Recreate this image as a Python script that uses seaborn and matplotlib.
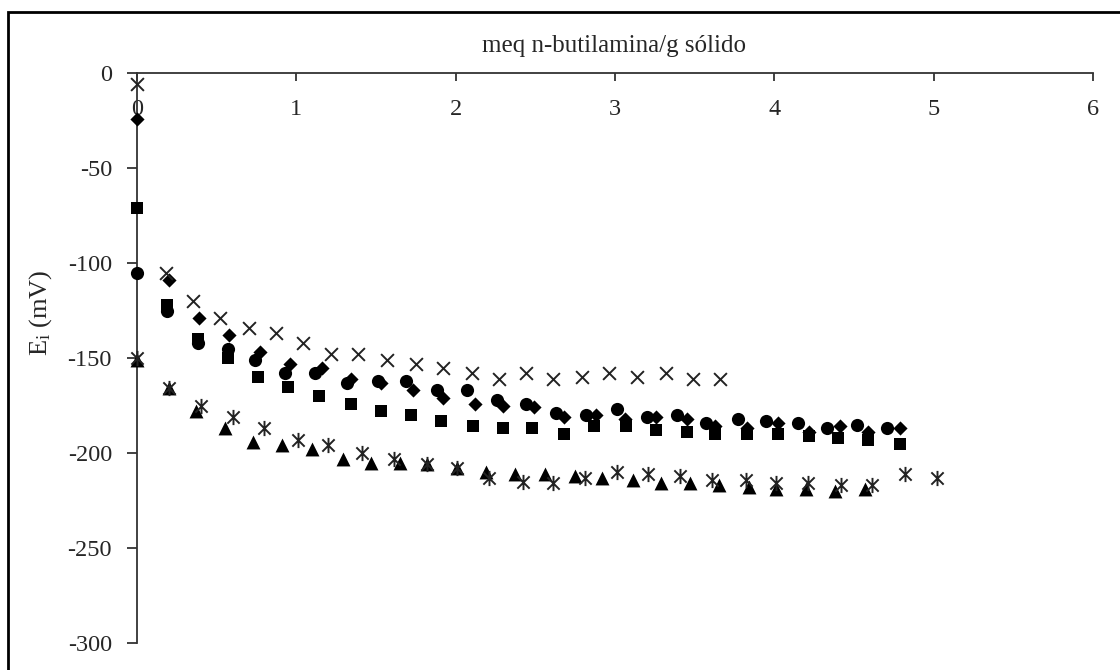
import numpy as np
import pandas as pd
import matplotlib
matplotlib.use("Agg")
import matplotlib.pyplot as plt
import seaborn as sns
from matplotlib.path import Path
from matplotlib.patches import Rectangle

# ---------------- data ----------------
x_cross = [0.00, 0.18, 0.35, 0.52, 0.70, 0.87, 1.04, 1.22, 1.39, 1.57, 1.75,
           1.92, 2.10, 2.27, 2.44, 2.61, 2.79, 2.96, 3.14, 3.32, 3.49, 3.66]
y_cross = [-6, -105, -120, -129, -134, -137, -142, -148, -148, -151, -153,
           -155, -158, -161, -158, -161, -160, -158, -160, -158, -161, -161]

x_diamond = [0.00, 0.20, 0.39, 0.58, 0.77, 0.96, 1.16, 1.34, 1.53, 1.73, 1.92,
             2.12, 2.30, 2.49, 2.68, 2.88, 3.06, 3.26, 3.45, 3.63, 3.83, 4.02,
             4.22, 4.41, 4.59, 4.79]
y_diamond = [-24, -109, -129, -138, -147, -153, -155, -161, -163, -167, -171,
             -174, -175, -176, -181, -180, -182, -181, -182, -186, -187, -184,
             -189, -186, -189, -187]

x_circle = [0.00, 0.19, 0.38, 0.57, 0.74, 0.93, 1.12, 1.32, 1.51, 1.69, 1.88,
            2.07, 2.26, 2.44, 2.63, 2.82, 3.01, 3.20, 3.39, 3.57, 3.77, 3.95,
            4.15, 4.33, 4.52, 4.71]
y_circle = [-105, -125, -142, -145, -151, -158, -158, -163, -162, -162, -167,
            -167, -172, -174, -179, -180, -177, -181, -180, -184, -182, -183,
            -184, -187, -185, -187]

x_square = [0.00, 0.19, 0.38, 0.57, 0.76, 0.95, 1.14, 1.34, 1.53, 1.72, 1.91,
            2.11, 2.30, 2.48, 2.68, 2.87, 3.07, 3.26, 3.45, 3.63, 3.83, 4.02,
            4.22, 4.40, 4.59, 4.79]
y_square = [-71, -122, -140, -150, -160, -165, -170, -174, -178, -180, -183,
            -186, -187, -187, -190, -186, -186, -188, -189, -190, -190, -190,
            -191, -192, -193, -195]

x_triangle = [0.00, 0.20, 0.37, 0.55, 0.73, 0.91, 1.10, 1.29, 1.47, 1.65, 1.82,
              2.01, 2.19, 2.37, 2.56, 2.75, 2.92, 3.11, 3.29, 3.47, 3.65, 3.84,
              4.01, 4.20, 4.38, 4.57]
y_triangle = [-151, -166, -178, -187, -194, -196, -198, -203, -205, -205, -206,
              -208, -210, -211, -211, -212, -213, -214, -216, -216, -217, -218,
              -219, -219, -220, -219]

x_star = [0.00, 0.20, 0.40, 0.60, 0.80, 1.01, 1.20, 1.41, 1.61, 1.82, 2.01,
          2.21, 2.42, 2.61, 2.81, 3.01, 3.21, 3.41, 3.61, 3.82, 4.01, 4.21,
          4.42, 4.61, 4.82, 5.02]
y_star = [-150, -166, -175, -181, -187, -193, -196, -200, -203, -206, -208,
          -213, -215, -216, -213, -210, -211, -212, -214, -214, -216, -216,
          -217, -217, -211, -213]

x_ticks = [0, 1, 2, 3, 4, 5, 6]
y_ticks = [0, -50, -100, -150, -200, -250, -300]
x_label = "meq n-butilamina/g sólido"
y_label = r"E$_\mathregular{i}$ (mV)"

# ---------------- style ----------------
sns.set_theme(style="white")
plt.rcParams["font.family"] = ["Liberation Serif", "DejaVu Serif"]
plt.rcParams["mathtext.fontset"] = "custom"
plt.rcParams["mathtext.rm"] = "Liberation Serif"
plt.rcParams["mathtext.it"] = "Liberation Serif:italic"

# asterisk marker: x plus vertical bar (Excel style)
star_path = Path(
    [(-0.5, -0.5), (0.5, 0.5), (-0.5, 0.5), (0.5, -0.5), (0, -0.62), (0, 0.62)],
    [Path.MOVETO, Path.LINETO, Path.MOVETO, Path.LINETO, Path.MOVETO, Path.LINETO],
)

fig = plt.figure(figsize=(11.2, 6.7), dpi=100)
ax = fig.add_axes([137 / 1120, 1 - 643 / 670, (1093 - 137) / 1120, (643 - 73) / 670])

series = [
    (x_triangle, y_triangle, "^", 100, "fill"),
    (x_square, y_square, "s", 85, "fill"),
    (x_circle, y_circle, "o", 90, "fill"),
    (x_diamond, y_diamond, "D", 52, "fill"),
    (x_cross, y_cross, "x", 85, "line"),
    (x_star, y_star, star_path, 120, "line"),
]
for xs, ys, mk, sz, kind in series:
    df = pd.DataFrame({"x": xs, "y": ys})
    if kind == "fill":
        sns.scatterplot(data=df, x="x", y="y", marker=mk, s=sz, color="black",
                        edgecolor="black", linewidth=0, ax=ax, zorder=3, clip_on=False)
    else:
        sns.scatterplot(data=df, x="x", y="y", marker=mk, s=sz, color="#222222",
                        edgecolor="#222222", linewidth=1.4, ax=ax, zorder=4,
                        clip_on=False)

ax.set_xlim(0, 6)
ax.set_ylim(-300, 0)
ax.set_xticks(x_ticks)
ax.set_yticks(y_ticks)
ax.set_xticklabels([str(v) for v in x_ticks])
ax.set_yticklabels([str(v) for v in y_ticks])
ax.set_xlabel("")
ax.set_ylabel("")

ax.spines["bottom"].set_position(("data", 0))
ax.spines["top"].set_visible(False)
ax.spines["right"].set_visible(False)
for s in ("bottom", "left"):
    ax.spines[s].set_color("#333333")
    ax.spines[s].set_linewidth(1.3)
ax.tick_params(axis="x", direction="out", length=6, width=1.3, color="#333333",
               pad=13, labelsize=17.5, bottom=True, top=False)
ax.tick_params(axis="y", direction="out", length=7, width=1.3, color="#333333",
               pad=11, labelsize=17.5, left=True)
ax.set_facecolor("white")
ax.patch.set_alpha(0)

fig.text(614 / 1120, 1 - 46 / 670, x_label, ha="center", va="center", fontsize=18)
fig.text(41 / 1120, 1 - 313 / 670, y_label, ha="center", va="center",
         rotation=90, fontsize=19)

# figure frame (cropped on the right and bottom as in the reference)
fig.patches.append(Rectangle((8 / 1120, -0.1), 1.2, 1.1 - 12 / 670,
                             transform=fig.transFigure, fill=False,
                             edgecolor="black", linewidth=2.0))

fig.savefig("out.png", dpi=100, facecolor="white")
